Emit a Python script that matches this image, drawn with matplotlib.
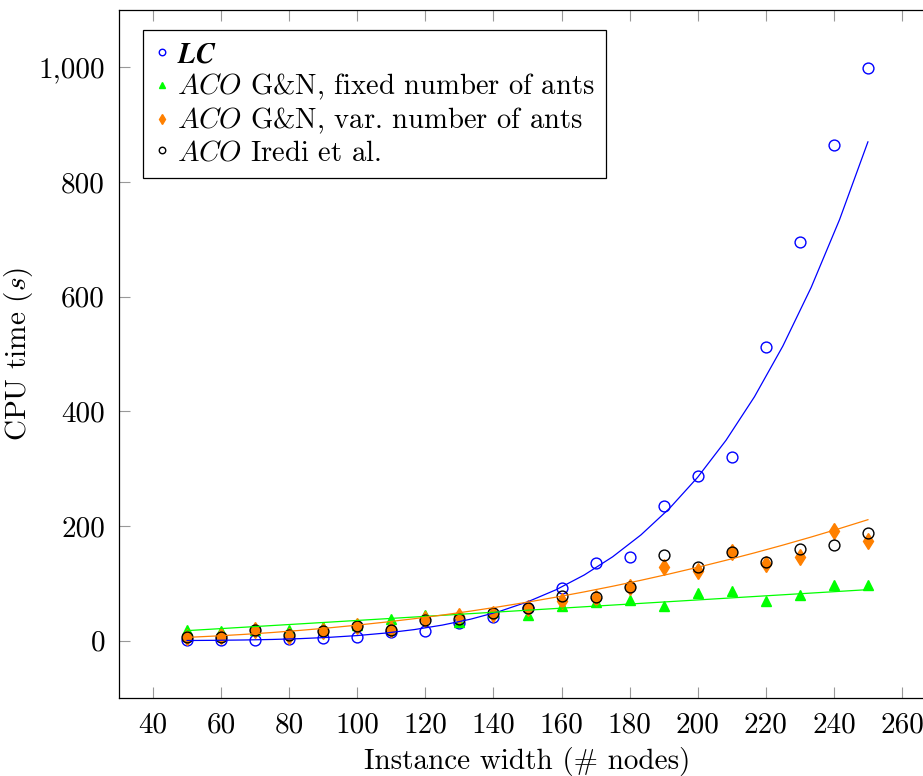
import matplotlib
matplotlib.use('Agg')
import numpy as np
import matplotlib.pyplot as plt
from matplotlib.ticker import FuncFormatter

# instance widths (# nodes)
widths = [50, 60, 70, 80, 90, 100, 110, 120, 130, 140, 150,
          160, 170, 180, 190, 200, 210, 220, 230, 240, 250]

# CPU times (s)
lc = [0.3, 0.7, 1.5, 3, 5, 7, 15, 17, 31, 42, 57,
      91, 136, 146, 235, 287, 320, 513, 696, 864, 998]
aco_fixed = [19, 16, 19, 19, 24, 28, 38, 45, 32, 50, 44,
             61, 67, 71, 61, 84, 87, 70, 80, 97, 97]
aco_var = [7, 8, 18, 9, 16, 26, 20, 37, 43, 47, 57,
           70, 74, 94, 129, 121, 155, 134, 146, 192, 174]
aco_iredi = [6, 7, 18, 10, 16, 26, 18, 36, 38, 48, 57,
             78, 76, 94, 149, 128, 155, 137, 160, 167, 188]

# power-law trend lines y = y250 * (x/250)^k
# order: LC, ACO fixed, ACO var
trend_y250 = [870, 89, 211]
trend_exp = [5.0, 1.01, 2.24]

x_ticks = [40, 60, 80, 100, 120, 140, 160, 180, 200, 220, 240, 260]
y_ticks = [0, 200, 400, 600, 800, 1000]

plt.rcParams['font.family'] = 'serif'
plt.rcParams['font.serif'] = ['cmr10']
plt.rcParams['mathtext.fontset'] = 'cm'
plt.rcParams['axes.unicode_minus'] = False
plt.rcParams['font.size'] = 21

fig = plt.figure(figsize=(9.23, 7.76), dpi=100)
ax = fig.add_axes([119 / 923, 1 - 698 / 776, (936 - 119) / 923, (698 - 10) / 776])

x = np.array(widths, dtype=float)
ms = 7.8
ax.plot(x, lc, 'o', ls='none', ms=ms, mfc='none', mec='blue', mew=1.0,
        label=r'$\mathbfit{LC}$')
ax.plot(x, aco_fixed, '^', ls='none', ms=ms, color='#00ff00', mec='#00ff00',
        label=r'$\mathit{ACO}$ G&N, fixed number of ants')
ax.plot(x, aco_var, 'd', ls='none', ms=ms, color='#ff8000', mec='#ff8000',
        label=r'$\mathit{ACO}$ G&N, var. number of ants')
ax.plot(x, aco_iredi, 'o', ls='none', ms=ms, mfc='none', mec='black', mew=1.0,
        label=r'$\mathit{ACO}$ Iredi et al.')

xs = np.linspace(50, 250, 25)
for y250, k, c in zip(trend_y250, trend_exp, ['blue', '#00ff00', '#ff8000']):
    ax.plot(xs, y250 * (xs / 250) ** k, color=c, lw=0.9)

ax.set_xlim(30, 270)
ax.set_ylim(-100, 1100)
ax.set_xticks(x_ticks)
ax.set_yticks(y_ticks)
ax.yaxis.set_major_formatter(FuncFormatter(lambda v, p: f'{v:,.0f}'))
ax.tick_params(direction='in', length=8, width=0.8, color='#999999',
               top=True, right=True, pad=10)
for s in ax.spines.values():
    s.set_linewidth(0.9)

ax.set_xlabel('Instance width (# nodes)', labelpad=6)
ax.set_ylabel(r'CPU time ($s$)')
ax.yaxis.set_label_coords(-0.103, 0.5)

leg = ax.legend(loc='upper left', bbox_to_anchor=(0.0295, 0.971), fancybox=False,
                edgecolor='black', framealpha=1, handlelength=0.45,
                handletextpad=0.3, borderpad=0.42, labelspacing=0.13,
                markerscale=0.6, borderaxespad=0, fontsize=20.6)
leg.get_frame().set_linewidth(0.9)

fig.savefig('out.png', dpi=100)
